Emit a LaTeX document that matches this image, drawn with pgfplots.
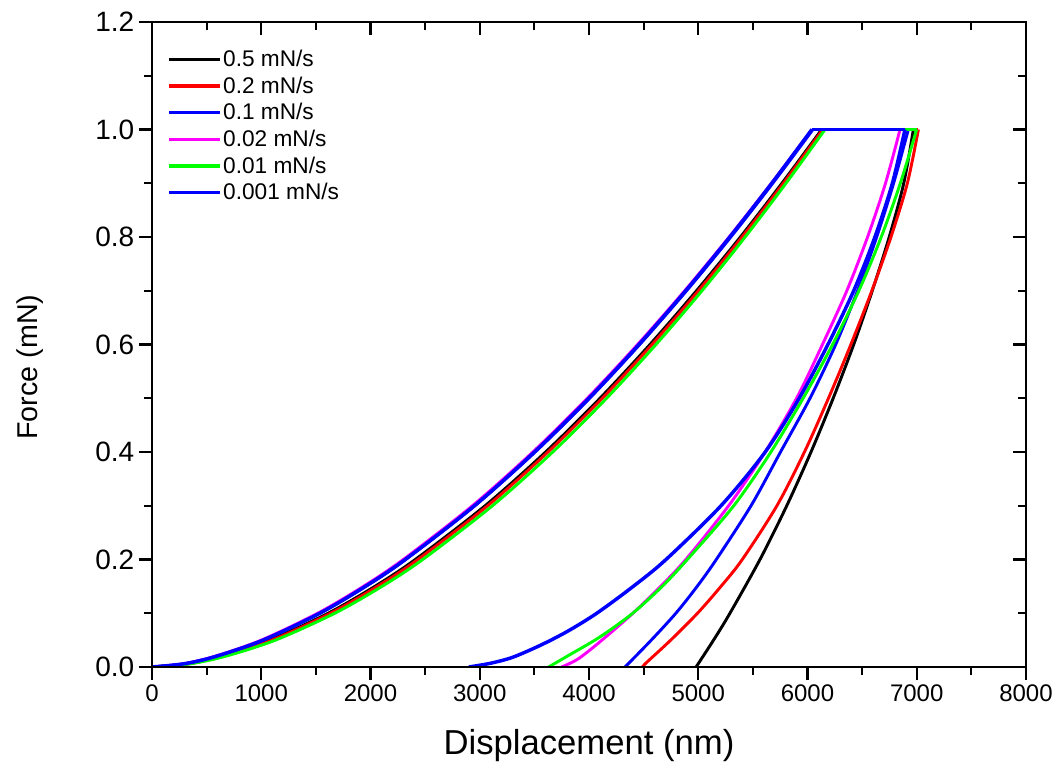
\documentclass[border=0pt]{standalone}
\usepackage{fontspec}
\setmainfont{Liberation Sans}
\usepackage{pgfplots}
\pgfplotsset{compat=1.18}
\definecolor{cred}{RGB}{255,0,0}
\definecolor{cblue}{RGB}{0,0,255}
\definecolor{cmag}{RGB}{255,0,255}
\definecolor{cgreen}{RGB}{0,255,0}
\begin{document}
\begin{tikzpicture}
\pgfplotsset{
  common/.style={
    scale only axis, width=655.5pt, height=483.75pt,
    xmin=0, xmax=8000, ymin=0, ymax=1.2,
    xtick={0,1000,2000,3000,4000,5000,6000,7000,8000},
    ytick={0,0.2,0.4,0.6,0.8,1.0,1.2},
    minor x tick num=1, minor y tick num=1,
    axis line style={line width=1.6pt},
    every tick/.style={black, line width=1.6pt},
    major tick length=9.75pt, minor tick length=6pt,
  }
}
\begin{axis}[common, name=ax,
  tick align=outside, xtick pos=left, ytick pos=left,
  /pgf/number format/assume math mode=true,
  xticklabel style={font=\fontsize{18}{21}\selectfont, /pgf/number format/.cd, set thousands separator={}},
  yticklabel style={font=\fontsize{21}{24}\selectfont, /pgf/number format/.cd, fixed, fixed zerofill, precision=1},
  xlabel={Displacement (nm)}, ylabel={Force (mN)},
  xlabel style={font=\fontsize{26}{30}\selectfont, at={(axis description cs:0.5,-0.121)}, anchor=center},
  ylabel style={font=\fontsize{21.5}{26}\selectfont, at={(axis description cs:-0.1396,0.465)}, anchor=center},
  legend cell align=left,
  legend style={at={(axis description cs:0.0172,0.960)}, anchor=north west, draw=none, fill=none,
    font=\fontsize{17}{20}\selectfont, inner sep=0pt, row sep=3.2pt,
    nodes={inner sep=1.5pt}},
  legend image code/.code={\draw[#1, line width=2.4pt] (0pt,0pt) -- (38pt,0pt);},
  every axis plot/.append style={line width=2.2pt},
]
% 0.5 mN/s
\addplot[black, smooth] coordinates {(0,0)(330,0.006)(634,0.02)(1079,0.05)(1612,0.1)(2040,0.15)(2410,0.2)(3049,0.3)(3603,0.4)(4101,0.5)(4558,0.6)(4984,0.7)(5386,0.8)(5766,0.9)(6130,1.0)};
\addlegendentry{0.5 mN/s}
\addplot[black, forget plot] coordinates {(6130,1.0)(6969,1.0)};
\addplot[black, smooth, forget plot] coordinates {(6969,1.0)(6881,0.9)(6748,0.8)(6593,0.7)(6423,0.6)(6235,0.5)(6032,0.4)(5810,0.3)(5565,0.2)(5290,0.1)(5140,0.05)(4980,0)};
% 0.2 mN/s
\addplot[cred, smooth] coordinates {(0,0)(335,0.006)(648,0.02)(1097,0.05)(1634,0.1)(2063,0.15)(2434,0.2)(3072,0.3)(3625,0.4)(4122,0.5)(4577,0.6)(5002,0.7)(5401,0.8)(5779,0.9)(6140,1.0)};
\addlegendentry{0.2 mN/s}
\addplot[cred, forget plot] coordinates {(6140,1.0)(7015,1.0)};
\addplot[cred, smooth, forget plot] coordinates {(7015,1.0)(6914,0.9)(6764,0.8)(6589,0.7)(6397,0.6)(6192,0.5)(5972,0.4)(5720,0.3)(5403,0.2)(5208,0.15)(4993,0.1)(4748,0.05)(4525,0.008)(4490,0)};
% 0.1 mN/s
\addplot[cblue, smooth] coordinates {(0,0)(302,0.0062)(590,0.02)(1018,0.05)(1537,0.1)(1957,0.15)(2322,0.2)(2955,0.3)(3507,0.4)(4006,0.5)(4464,0.6)(4893,0.7)(5298,0.8)(5682,0.9)(6050,1.0)};
\addlegendentry{0.1 mN/s}
\addplot[cblue, forget plot] coordinates {(6050,1.0)(6923,1.0)};
\addplot[cblue, smooth, forget plot] coordinates {(6923,1.0)(6788,0.9)(6633,0.8)(6458,0.7)(6258,0.6)(6023,0.5)(5753,0.4)(5483,0.3)(5165,0.2)(4990,0.15)(4795,0.1)(4570,0.05)(4330,0)};
% 0.02 mN/s
\addplot[cmag, smooth] coordinates {(0,0)(295,0.0062)(577,0.02)(1001,0.05)(1517,0.1)(1935,0.15)(2300,0.2)(2933,0.3)(3486,0.4)(3985,0.5)(4445,0.6)(4876,0.7)(5283,0.8)(5670,0.9)(6040,1.0)};
\addlegendentry{0.02 mN/s}
\addplot[cmag, forget plot] coordinates {(6040,1.0)(6847,1.0)};
\addplot[cmag, smooth, forget plot] coordinates {(6847,1.0)(6714,0.9)(6550,0.8)(6360,0.7)(6137,0.6)(5900,0.5)(5612,0.4)(5278,0.3)(4886,0.2)(4655,0.15)(4402,0.1)(4101,0.047)(3900,0.015)(3750,0)};
% 0.01 mN/s
\addplot[cgreen, smooth] coordinates {(0,0)(350,0.006)(673,0.02)(1130,0.05)(1673,0.1)(2105,0.15)(2478,0.2)(3116,0.3)(3668,0.4)(4161,0.5)(4613,0.6)(5034,0.7)(5429,0.8)(5803,0.9)(6160,1.0)};
\addlegendentry{0.01 mN/s}
\addplot[cgreen, forget plot] coordinates {(6160,1.0)(6999,1.0)};
\addplot[cgreen, smooth, forget plot] coordinates {(6999,1.0)(6850,0.9)(6675,0.8)(6470,0.7)(6230,0.6)(5960,0.5)(5665,0.4)(5325,0.3)(4900,0.2)(4670,0.15)(4400,0.1)(4101,0.056)(3800,0.02)(3630,0)};
% 0.001 mN/s
\addplot[cblue, smooth, line width=2.6pt] coordinates {(0,0)(300,0.0062)(589,0.02)(1016,0.05)(1535,0.1)(1953,0.15)(2318,0.2)(2951,0.3)(3501,0.4)(3999,0.5)(4457,0.6)(4885,0.7)(5289,0.8)(5673,0.9)(6040,1.0)};
\addlegendentry{0.001 mN/s}
\addplot[cblue, line width=2.6pt, forget plot] coordinates {(6040,1.0)(6892,1.0)};
\addplot[cblue, smooth, line width=2.6pt, forget plot] coordinates {(6892,1.0)(6777,0.9)(6617,0.8)(6423,0.7)(6187,0.6)(5924,0.5)(5613,0.4)(5208,0.3)(4705,0.2)(4405,0.15)(4071,0.1)(3800,0.066)(3551,0.04)(3300,0.018)(3100,0.007)(2900,0)};
\end{axis}
\begin{axis}[common, tick align=inside, xtick pos=right, ytick pos=right,
  xticklabels={}, yticklabels={}]
\end{axis}
\path (ax.south west) ++(-114pt,-79.5pt) (ax.north east) ++(24.75pt,16.5pt);
\end{tikzpicture}
\end{document}
